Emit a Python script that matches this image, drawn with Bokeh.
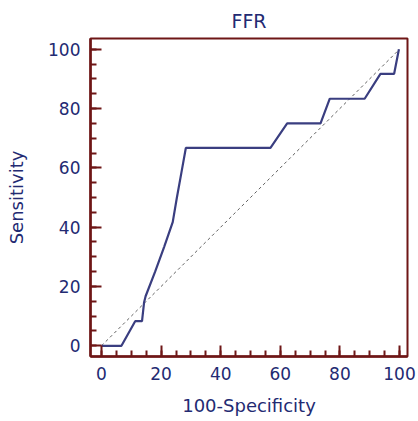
from bokeh.plotting import figure
from bokeh.models import Range1d, FixedTicker
from bokeh.embed import file_html
from bokeh.resources import INLINE

# ROC curve points (100-Specificity, Sensitivity)
fpr = [0, 6.7, 11.3, 13.6, 14.3, 14.8, 18.0, 21.0, 23.9, 25.3, 26.8, 28.3,
       56.7, 62.3, 73.5, 76.6, 88.3, 93.6, 98.2, 99.8]
tpr = [0, 0, 8.3, 8.3, 14.7, 16.7, 25.0, 33.3, 41.7, 50.0, 58.3, 66.7,
       66.7, 75.0, 75.0, 83.3, 83.3, 91.7, 91.7, 100.0]
diag = [0, 100]
major_ticks = [0, 20, 40, 60, 80, 100]
minor_ticks = list(range(0, 101, 5))

NAVY = "#232a72"
MAROON = "#6e1616"
FONT = "DejaVu Sans"

p = figure(width=418, height=421, output_backend="svg", toolbar_location=None,
           x_range=Range1d(-3.69, 102.68), y_range=Range1d(-3.61, 103.61),
           min_border_left=90, min_border_right=11, min_border_top=38,
           min_border_bottom=65, title="FFR")

p.title.align = "center"
p.title.text_font = FONT
p.title.text_font_size = "19px"
p.title.text_font_style = "normal"
p.title.text_color = NAVY
p.title.standoff = 14

p.outline_line_color = MAROON
p.outline_line_width = 2
p.outline_line_alpha = 1
p.xgrid.visible = False
p.ygrid.visible = False
p.background_fill_color = "white"
p.border_fill_color = "white"

p.line(diag, diag, line_color="#5f5f5f", line_width=1, line_dash="3 3")
p.line(fpr, tpr, line_color="#3a3e80", line_width=2.2)

for ax, lab in ((p.xaxis[0], "100-Specificity"), (p.yaxis[0], "Sensitivity")):
    ax.ticker = FixedTicker(ticks=major_ticks, minor_ticks=minor_ticks)
    ax.axis_label = lab
    ax.axis_label_text_font = FONT
    ax.axis_label_text_font_size = "18px"
    ax.axis_label_text_font_style = "normal"
    ax.axis_label_text_color = NAVY
    ax.major_label_text_font = FONT
    ax.major_label_text_font_size = "17px"
    ax.major_label_text_color = NAVY
    ax.axis_line_color = MAROON
    ax.axis_line_width = 2.5
    ax.major_tick_line_color = MAROON
    ax.major_tick_line_width = 2
    ax.minor_tick_line_color = MAROON
    ax.minor_tick_line_width = 2
    ax.major_tick_in = 11
    ax.major_tick_out = 0
    ax.minor_tick_in = 6
    ax.minor_tick_out = 0
    ax.major_label_standoff = 10

p.xaxis[0].axis_label_standoff = 12
p.yaxis[0].axis_label_standoff = 18

open("out.html", "w").write(file_html(p, INLINE))
